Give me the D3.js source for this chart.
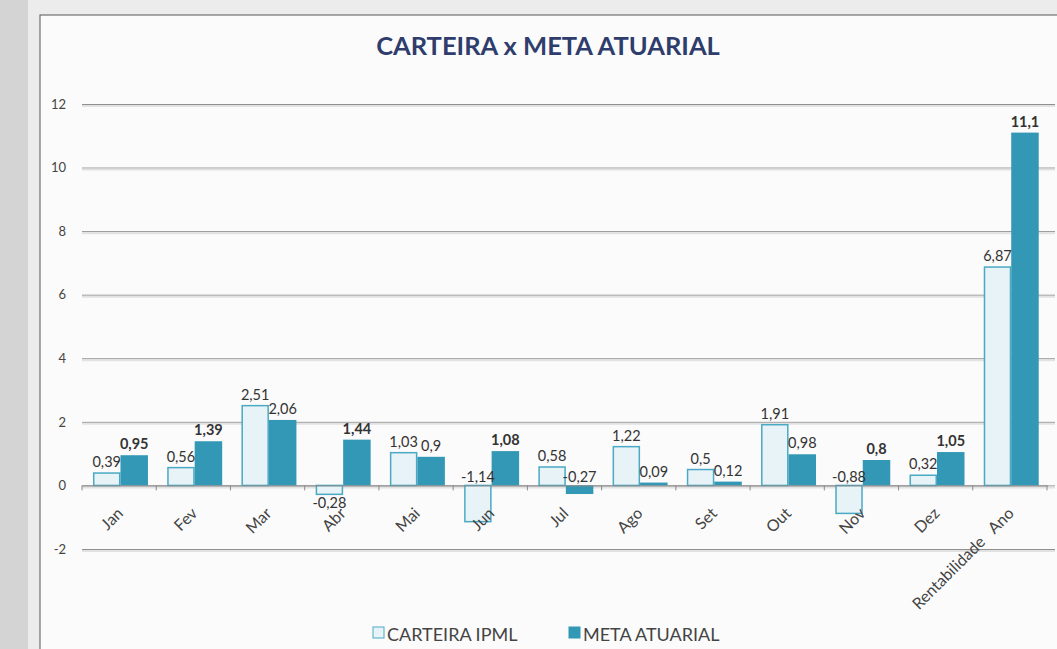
<!DOCTYPE html>
<html>
<head>
<meta charset="utf-8">
<script src="https://cdn.jsdelivr.net/npm/d3@7"></script>
<style>
  body { margin: 0; background: #dcdcdc; }
  svg { display: block; }
  text { font-family: Lato, "Open Sans", sans-serif; }
</style>
</head>
<body>
<svg id="chart" width="1057" height="649"></svg>
<script>
const categories = ['Jan', 'Fev', 'Mar', 'Abr', 'Mai', 'Jun', 'Jul', 'Ago', 'Set', 'Out', 'Nov', 'Dez', 'Rentabilidade Ano'];
const carteira = [0.39, 0.56, 2.51, -0.28, 1.03, -1.14, 0.58, 1.22, 0.5, 1.91, -0.88, 0.32, 6.87];
const meta = [0.95, 1.39, 2.06, 1.44, 0.9, 1.08, -0.27, 0.09, 0.12, 0.98, 0.8, 1.05, 11.1];
const seriesNames = ['CARTEIRA IPML', 'META ATUARIAL'];
const yTicks = [-2, 0, 2, 4, 6, 8, 10, 12];

const svg = d3.select('#chart');
const width = +svg.attr('width');
const height = +svg.attr('height');

const fillColors = ['#e7f3f6', '#3298b5'];
const strokeColors = ['#4aa9c4', '#3298b5'];

// page background + chart frame
svg.append('rect').attr('width', width).attr('height', height).attr('fill', '#d4d4d4');
svg.append('rect').attr('x', 28).attr('y', 0).attr('width', width).attr('height', height).attr('fill', '#ececec');
svg.append('rect').attr('x', 40).attr('y', 15).attr('width', width).attr('height', height)
  .attr('fill', '#fbfbfb').attr('stroke', '#555').attr('stroke-width', 1);

const plot = { left: 82, right: 1047, top: 104, bottom: 549 };

let xScale = d3.scaleBand().domain(categories).range([plot.left, plot.right]).padding(0);
let xInner = d3.scaleBand().domain(seriesNames).range([0, xScale.bandwidth()])
  .paddingInner(0).paddingOuter(0.35).align(0.57);
let yScale = d3.scaleLinear().domain([-2, 12]).range([plot.bottom, plot.top]);

// title
svg.append('text')
  .attr('x', 548).attr('y', 55)
  .attr('text-anchor', 'middle')
  .attr('font-size', 25.5).attr('font-weight', 700)
  .attr('fill', '#2f3d6d')
  .text('CARTEIRA x META ATUARIAL');

// gridlines
let yAxis = d3.axisLeft(yScale).tickValues(yTicks)
  .tickSize(-(plot.right + 8 - plot.left))
  .tickPadding(16)
  .tickFormat(d => d);

svg.append('g')
  .attr('transform', 'translate(' + plot.left + ',0)')
  .call(yAxis)
  .call(g => g.select('.domain').remove())
  .call(g => g.selectAll('.tick line').attr('stroke', '#8f8f8f'))
  .call(g => g.selectAll('.tick text').attr('font-size', 13).attr('fill', '#444')
    .attr('font-family', 'Lato, sans-serif'));

// soft shadow under gridlines like the original
svg.append('g').selectAll('line').data(yTicks).enter().append('line')
  .attr('x1', plot.left).attr('x2', plot.right + 8)
  .attr('y1', d => yScale(d) + 2).attr('y2', d => yScale(d) + 2)
  .attr('stroke', '#e2e2e2').attr('stroke-width', 2);

// bars
const rows = categories.map((c, i) => ({ cat: c, vals: [carteira[i], meta[i]] }));

const groups = svg.append('g').selectAll('g').data(rows).enter().append('g')
  .attr('transform', d => 'translate(' + xScale(d.cat) + ',0)');

groups.selectAll('rect')
  .data(d => d.vals.map((v, k) => ({ v: v, k: k, s: seriesNames[k] })))
  .enter().append('rect')
  .attr('x', d => xInner(d.s) + (d.k === 0 ? 0.75 : 0))
  .attr('width', d => xInner.bandwidth() - (d.k === 0 ? 1.5 : 0))
  .attr('y', d => yScale(Math.max(0, d.v)))
  .attr('height', d => Math.abs(yScale(d.v) - yScale(0)))
  .attr('fill', d => fillColors[d.k])
  .attr('stroke', d => strokeColors[d.k])
  .attr('stroke-width', d => d.k === 0 ? 1.5 : 0);

// zero axis with ticks
let xAxis = d3.axisBottom(xScale).tickSize(0).tickFormat('');
svg.append('g')
  .attr('transform', 'translate(0,' + yScale(0) + ')')
  .call(xAxis)
  .call(g => g.select('.domain').attr('stroke', '#8a8a8a'));

svg.append('g').selectAll('line')
  .data(categories.map(c => xScale(c)).concat([plot.right]))
  .enter().append('line')
  .attr('x1', d => d).attr('x2', d => d)
  .attr('y1', yScale(0)).attr('y2', yScale(0) + 5)
  .attr('stroke', '#8a8a8a');

// category labels, rotated
svg.append('g').selectAll('text').data(categories).enter().append('text')
  .attr('transform', d => 'translate(' + (xScale(d) + xScale.bandwidth() / 2 + 5) + ',' + (yScale(0) + 29) + ') rotate(-45)')
  .attr('text-anchor', 'end')
  .attr('font-size', 16).attr('fill', '#444')
  .style('white-space', 'pre')
  .text(d => d.replace(' ', '   '));

// data labels
const fmt = v => String(v).replace('.', ',');
const belowLabels = ['Abr'];

groups.selectAll('text.lbl')
  .data(d => d.vals.map((v, k) => ({ v: v, k: k, s: seriesNames[k], cat: d.cat, other: d.vals[1 - k] })))
  .enter().append('text')
  .attr('class', 'lbl')
  .attr('x', d => xInner(d.s) + xInner.bandwidth() / 2)
  .attr('y', d => {
    if (d.v >= 0) return yScale(d.v) - 6;
    if (d.k === 0 && belowLabels.includes(d.cat)) return yScale(d.v) + 14;
    return yScale(0) - 3;
  })
  .attr('text-anchor', 'middle')
  .attr('font-size', 14.5)
  .attr('font-weight', d => (d.k === 1 && d.v > d.other) ? 700 : 400)
  .attr('fill', '#333')
  .text(d => fmt(d.v));

// legend
const legend = svg.append('g').attr('transform', 'translate(373,641)');
const legendX = [0, 196];
seriesNames.forEach((name, k) => {
  legend.append('rect')
    .attr('x', legendX[k]).attr('y', -14).attr('width', 11).attr('height', 11)
    .attr('fill', fillColors[k]).attr('stroke', strokeColors[k]).attr('stroke-width', 1);
  legend.append('text')
    .attr('x', legendX[k] + 14).attr('y', 0)
    .attr('font-size', 18).attr('fill', '#444')
    .text(name);
});
</script>
</body>
</html>
